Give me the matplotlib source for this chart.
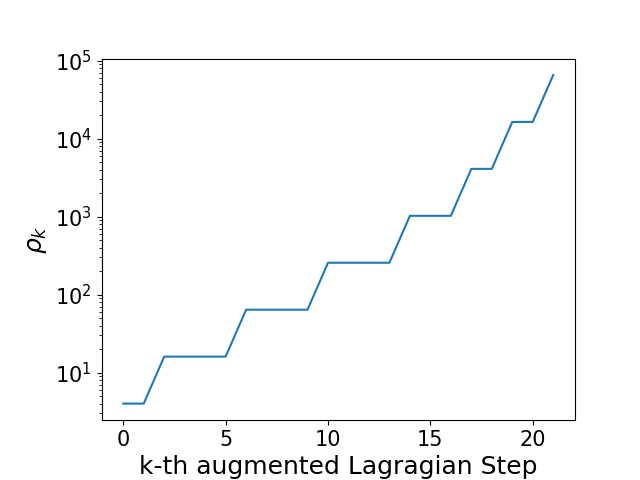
import matplotlib
matplotlib.use("Agg")
from matplotlib import pyplot as plt

# penalty parameter per augmented Lagrangian step
steps = list(range(22))
rho = [4, 4, 16, 16, 16, 16, 64, 64, 64, 64, 256, 256, 256, 256,
       1024, 1024, 1024, 4096, 4096, 16384, 16384, 65536]

fig, ax = plt.subplots(figsize=(6.4, 4.8), dpi=100)
ax.plot(steps, rho)
ax.set_yscale('log')
ax.set_xlabel('k-th augmented Lagragian Step', fontsize=18)
ax.set_ylabel(r'$\rho_k$', fontsize=18)
ax.tick_params(labelsize=15)
ax.set_xticks([0, 5, 10, 15, 20])
fig.subplots_adjust(left=0.159, right=0.898, top=0.878, bottom=0.125)
plt.savefig('out.png')
